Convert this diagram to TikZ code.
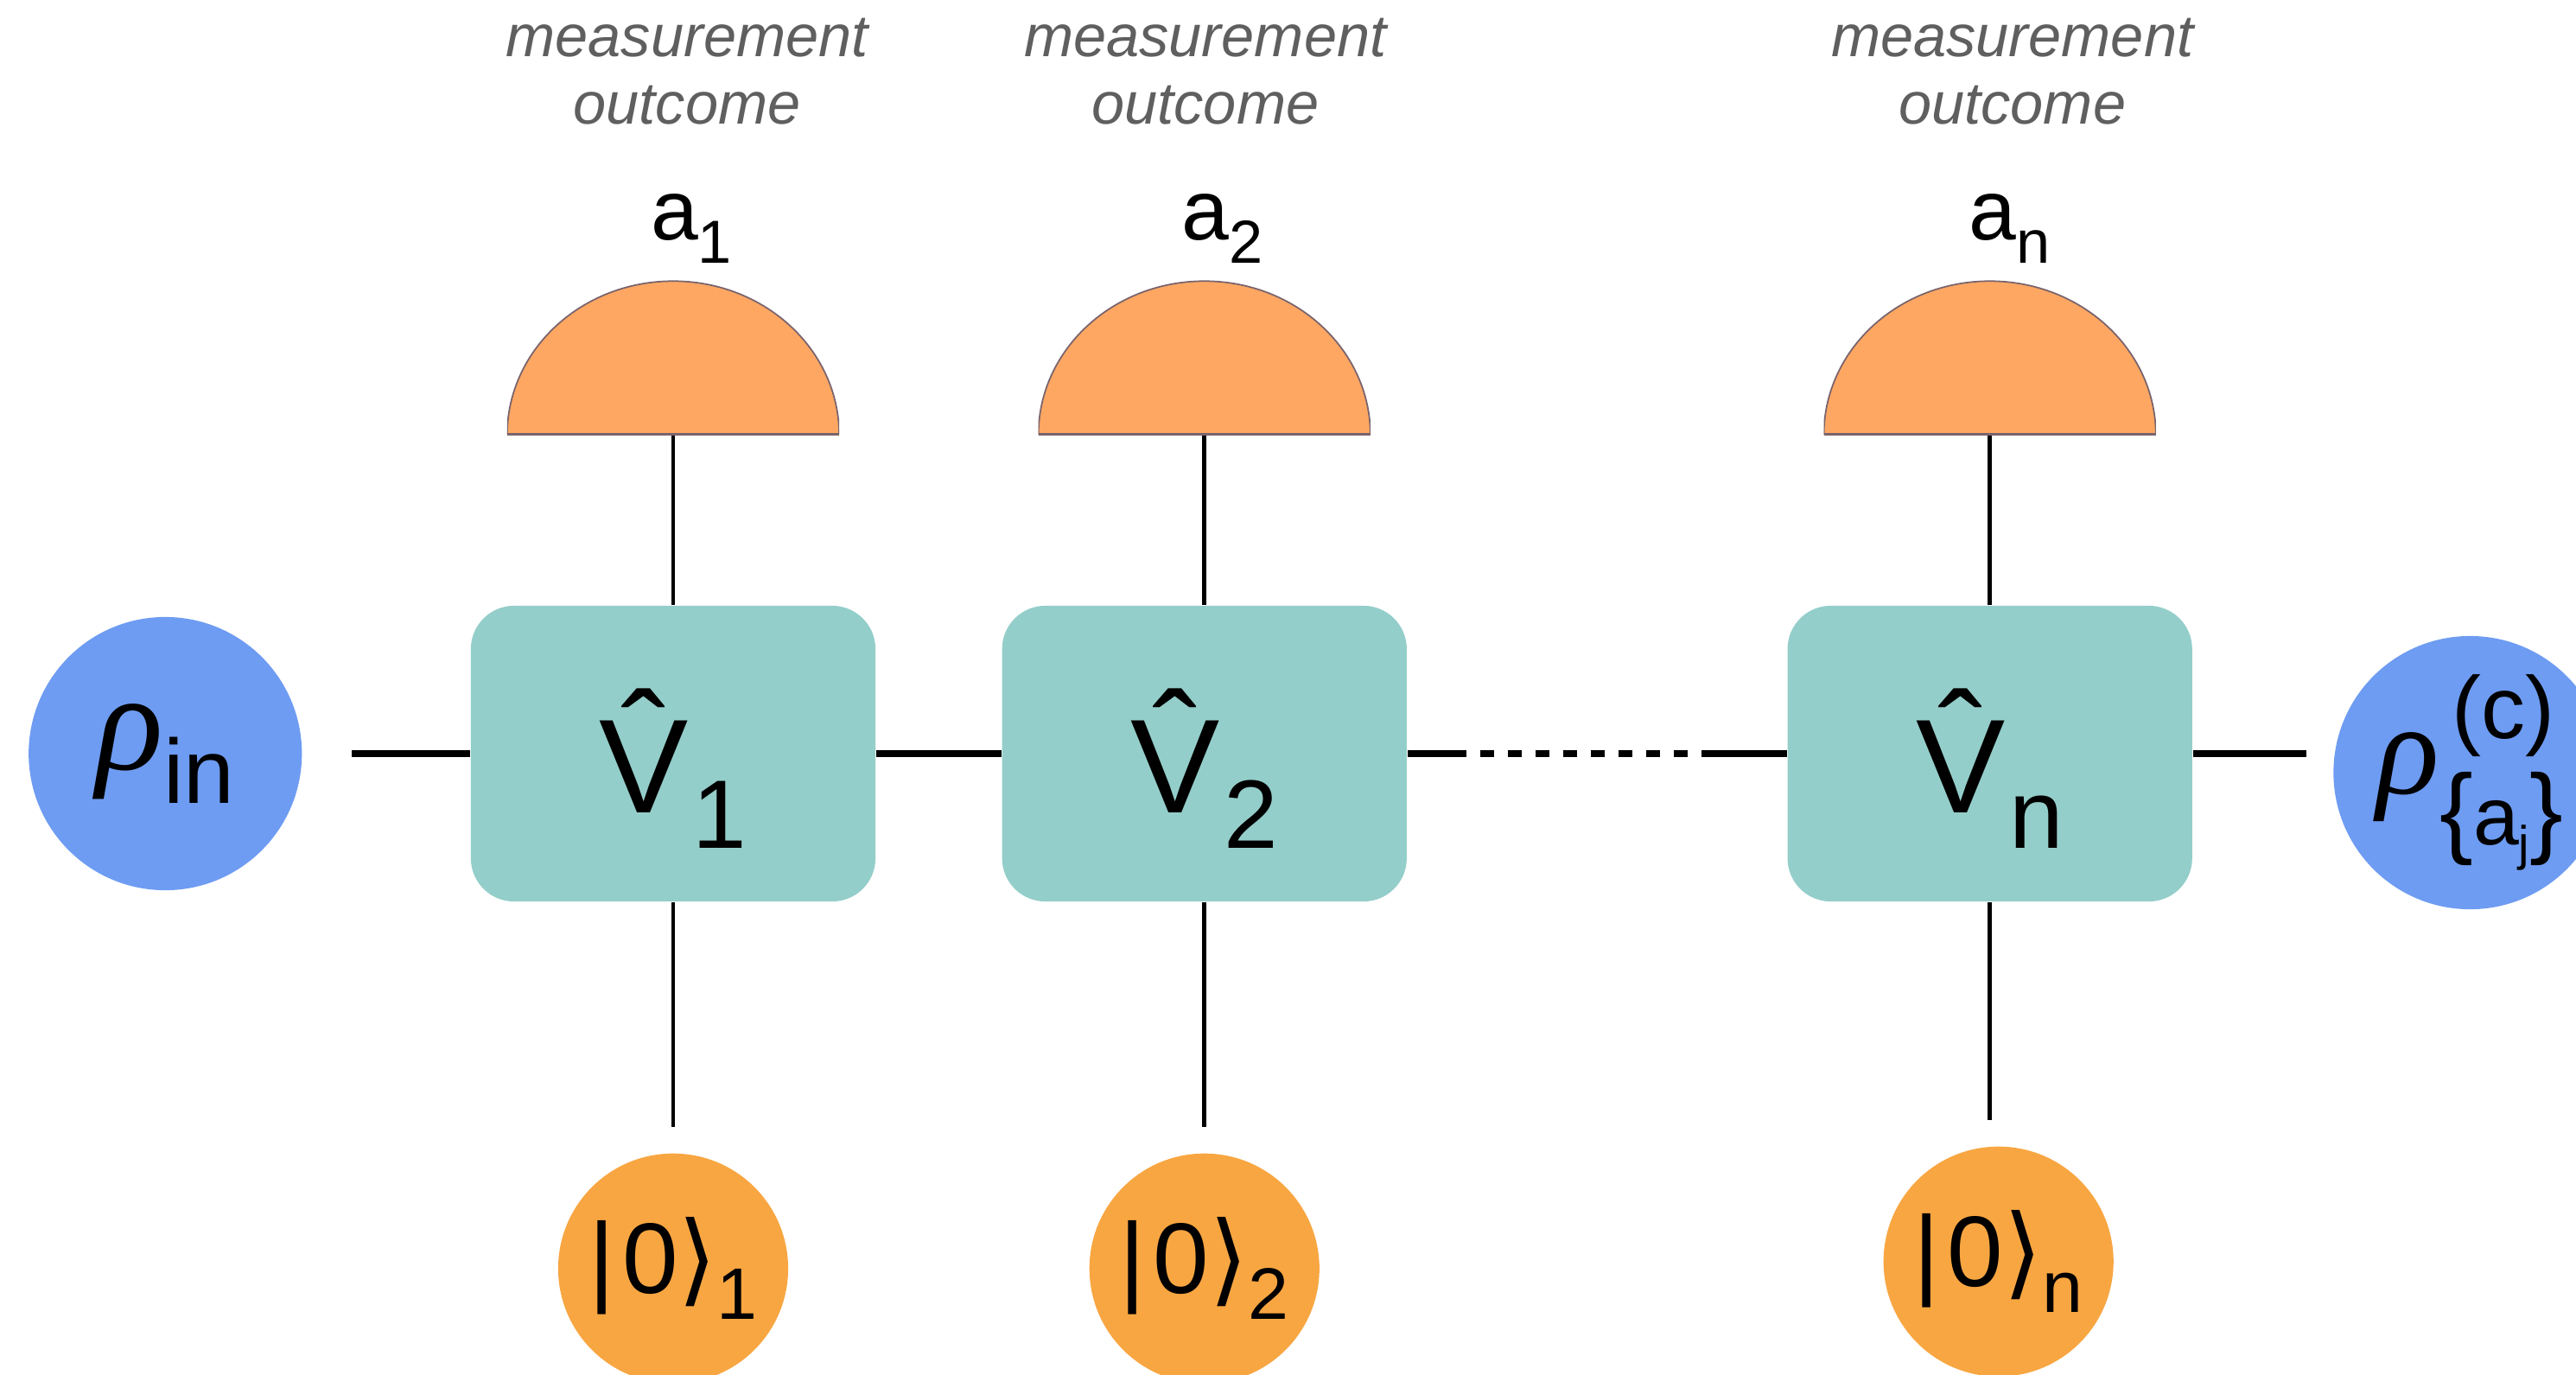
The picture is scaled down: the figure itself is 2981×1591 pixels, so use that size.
\documentclass[tikz,border=0pt]{standalone}
\usepackage{fontspec}
\setmainfont{Liberation Sans}
\newfontfamily\rhofont{Liberation Serif}
\newfontfamily\brfont{DejaVu Sans}
\usetikzlibrary{positioning,calc}

\definecolor{rhoblue}{HTML}{6E9CF2}
\definecolor{gateteal}{HTML}{94CECA}
\definecolor{detorange}{HTML}{FDA762}
\definecolor{detedge}{HTML}{7A646C}
\definecolor{ketorange}{HTML}{F8A642}
\definecolor{labelgray}{HTML}{5F5F5F}

\newcommand{\lowered}[3]{\raisebox{-#1}{\fontsize{#2}{#2}\selectfont #3}}
\newcommand{\hatV}{\leavevmode\hbox{\ooalign{V\cr\hidewidth\raisebox{0.2em}{\char"02C6}\hidewidth\cr}}}
\newcommand{\gatetext}[1]{\raisebox{-19.6pt}[0pt][0pt]{\fontsize{44}{44}\selectfont\hatV\hspace{1.5pt}\lowered{11.4pt}{32}{#1}}}
\newcommand{\kettext}[1]{\fontsize{33}{33}\selectfont|\hspace{2.5pt}0{\brfont ⟩}\lowered{8.5pt}{24}{#1}}
\newcommand{\outtext}[1]{\fontsize{28}{28}\selectfont a\lowered{7.7pt}{20}{#1}}

\begin{document}
\begin{tikzpicture}[
    x=0.01cm, y=-0.01cm,
    gate/.style={rectangle, fill=gateteal, rounded corners=0.5cm, minimum width=4.68cm, minimum height=3.42cm, inner sep=0pt},
    qstate/.style={circle, fill=rhoblue, minimum size=3.16cm, inner sep=0pt},
    ancilla/.style={circle, fill=ketorange, minimum size=2.66cm, inner sep=0pt},
    detector/.style={rectangle, minimum width=3.84cm, minimum height=1.81cm, inner sep=0pt,
        path picture={
            \fill[detorange] (path picture bounding box.south west) arc[start angle=180, end angle=0, x radius=1.92cm, y radius=1.78cm] -- cycle;
            \draw[detedge, line width=0.5pt] (path picture bounding box.south west) arc[start angle=180, end angle=0, x radius=1.92cm, y radius=1.78cm];
            \draw[detedge, line width=1.3pt] (path picture bounding box.south west) -- (path picture bounding box.south east);
        }},
    outcome/.style={inner sep=0pt},
    meas/.style={align=center, text=labelgray, font=\fontsize{19.5}{22.2}\selectfont\itshape, inner sep=0pt},
    wire/.style={line width=2.2pt},
    vwire/.style={line width=1.35pt}
]
    \useasboundingbox (0,0) rectangle (2981,1591);

    % gates
    \node[gate] (V1) at (779,872) {\gatetext{1}};
    \node[gate, right=1.45cm of V1] (V2) {\gatetext{2}};
    \node[gate, right=4.39cm of V2] (Vn) {\gatetext{n}};

    % input and output states
    \node[qstate, left=1.94cm of V1] (rhoin) {{\rhofont\itshape\fontsize{46}{46}\selectfont ρ}\lowered{11pt}{30}{in}};
    \node[qstate, right=1.62cm of Vn, yshift=-0.22cm] (rhoout) {{\rhofont\itshape\fontsize{43}{43}\selectfont ρ}\makebox[0pt][l]{\hspace{4pt}\raisebox{18pt}{\fontsize{29}{29}\selectfont(c)}}\raisebox{-17pt}{\fontsize{33}{33}\selectfont\{{\fontsize{27}{27}\selectfont a\lowered{5pt}{16}{j}}\}}\hspace{7pt}};

    % detectors and outcomes
    \node[detector, above=1.96cm of V1] (det1) {};
    \node[detector, above=1.96cm of V2] (det2) {};
    \node[detector, above=1.96cm of Vn] (detn) {};
    \node[outcome, above=0.16cm of det1, xshift=0.21cm] (a1) {\outtext{1}};
    \node[outcome, above=0.16cm of det2, xshift=0.21cm] (a2) {\outtext{2}};
    \node[outcome, above=0.16cm of detn, xshift=0.23cm] (an) {\outtext{n}};
    \node[meas, above=0.79cm of a1, xshift=-0.05cm] (m1) {measurement\\outcome};
    \node[meas, above=0.79cm of a2, xshift=-0.2cm] (m2) {measurement\\outcome};
    \node[meas, above=0.79cm of an, xshift=0.03cm] (mn) {measurement\\outcome};

    % ancillas
    \node[ancilla, below=2.9cm of V1] (k1) {\kettext{1}};
    \node[ancilla, below=2.9cm of V2] (k2) {\kettext{2}};
    \node[ancilla, below=2.82cm of Vn, xshift=0.1cm] (kn) {\kettext{n}};

    \coordinate[right=0.68cm of V2.east] (dl);
    \coordinate[left=0.91cm of Vn.west] (dr);

    \draw[wire, shorten <=0.57cm] (rhoin.east) -- (V1.west);
    \draw[wire] (V1) -- (V2);
    \draw[wire] (V2.east) -- (dl);
    \draw[wire, dash pattern=on 0.16cm off 0.16cm, dash phase=0.16cm] (dl) -- (dr);
    \draw[wire] (dr) -- (Vn.west);
    \draw[wire, shorten >=0.31cm] (Vn.east) -- (Vn.east -| rhoout.west);

    \foreach \g in {1,2,n} {
        \draw[vwire] (det\g.south) -- (V\g.north);
        \draw[vwire, shorten >=0.3cm] (V\g.south) -- (V\g.south |- k\g.north);
    }
\end{tikzpicture}
\end{document}
